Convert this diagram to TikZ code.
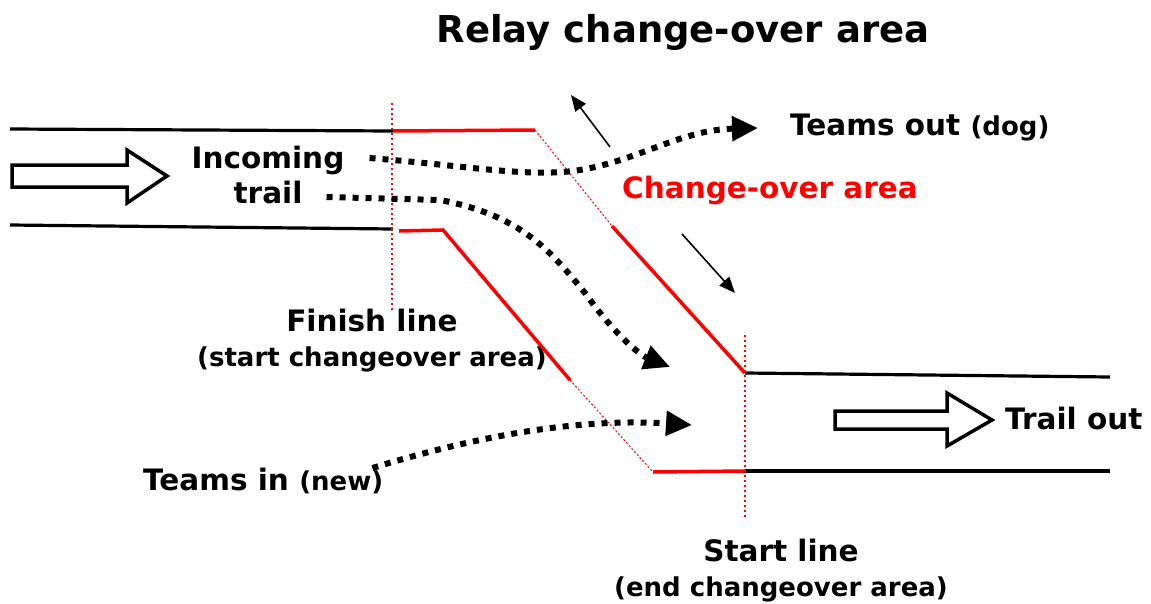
\documentclass[tikz,border=0pt]{standalone}
\usepackage{fontspec}
\setmainfont{DejaVu Sans}
\usetikzlibrary{positioning,arrows.meta}

\tikzset{
  trail/.style = {line width=3.2pt},
  redtrail/.style = {red, line width=3.5pt},
  redgap/.style = {red, line width=1pt, dash pattern=on 2pt off 2pt},
  marker/.style = {red, line width=1.2pt, dash pattern=on 2pt off 3pt},
  teampath/.style = {line width=6pt, dash pattern=on 6pt off 7pt,
    -{Triangle[length=26pt,width=24pt]}},
  flow/.style = {line width=1.6pt, -{Triangle[length=16pt,width=13pt]}},
  bigarrow/.style = {draw, line width=3.5pt, line join=miter},
  lbl/.style = {font=\bfseries\fontsize{29.5}{35}\selectfont, inner sep=0pt},
}
\newcommand{\smalltxt}[1]{{\fontsize{26}{30}\selectfont #1}}

\begin{document}
\begin{tikzpicture}[x=1pt, y=-1pt, nodes = {align = center}]
    \useasboundingbox (0,0) rectangle (1151,603);
    % corners of the trail
    \coordinate (inTL) at (10,129);
    \coordinate (inBL) at (10,225);
    \coordinate (finTop) at (393,131);
    \coordinate (finBot) at (393,229);
    \coordinate (startTop) at (745,373);
    \coordinate (startBot) at (745,471);
    \coordinate (outTR) at (1110,377);
    \coordinate (outBR) at (1110,471);

    \node (title) [font=\bfseries\fontsize{37}{40}\selectfont, inner sep=0pt] at (683,32) {Relay change-over area};
    \node (incoming) [lbl] at (268,175) {Incoming\\ trail};
    \node (teamsout) [lbl, anchor=west] at (790,128) {Teams out \smalltxt{(dog)}};
    \node (change) [lbl, red, anchor=west] at (622,190) {Change-over area};
    \node (finish) [lbl] at (372,341) {Finish line\\ \smalltxt{(start changeover area)}};
    \node (teamsin) [lbl, anchor=west] at (143,481) {Teams in \smalltxt{(new)}};
    \node (trailout) [lbl, anchor=west] at (1005,418) {Trail out};
    \node (start) [lbl] at (781,571) {Start line\\ \smalltxt{(end changeover area)}};

    % big hollow arrows
    \draw[bigarrow] (12,165) -- (127,165) -- (127,150) -- (167,176) -- (127,203) -- (127,187) -- (12,187) -- cycle;
    \draw[bigarrow] (835,411) -- (947,411) -- (947,393) -- (992,420) -- (947,446) -- (947,429) -- (835,429) -- cycle;

    % trail edges
    \draw[trail] (inTL) -- (finTop);
    \draw[trail] (inBL) -- (finBot);
    \draw[trail] (startTop) -- (outTR);
    \draw[trail] (startBot) -- (outBR);
    \draw[redtrail] (finTop) -- (535,130) coordinate (a1);
    \draw[redgap] (a1) -- (612,226) coordinate (a2);
    \draw[redtrail] (a2) -- (startTop);
    \draw[redtrail] (399,231) -- (443,230) -- (570,380) coordinate (b1);
    \draw[redgap] (b1) -- (653,472) coordinate (b2);
    \draw[redtrail] (b2) -- (startBot);
    \draw[marker] (392,103) -- (392,310);
    \draw[marker] (745,335) -- (745,518);

    \draw[flow] (610,147) -- (571,95);
    \draw[flow] (682,234) -- (735,293);

    \draw[teampath] ([xshift=25pt,yshift=17pt]incoming.east) .. controls (470,166) and (530,178) .. (580,170)
        .. controls (640,160) and (680,130) .. ([xshift=-32pt]teamsout.west);
    \draw[teampath] ([xshift=-18pt,yshift=-22pt]incoming.east) -- (440,200) .. controls (520,215) and (550,250) .. (585,293)
        .. controls (615,335) and (640,355) .. (670,367);
    \draw[teampath] ([xshift=-11pt,yshift=13pt]teamsin.east) .. controls (480,435) and (580,418) .. (692,425);
\end{tikzpicture}
\end{document}
